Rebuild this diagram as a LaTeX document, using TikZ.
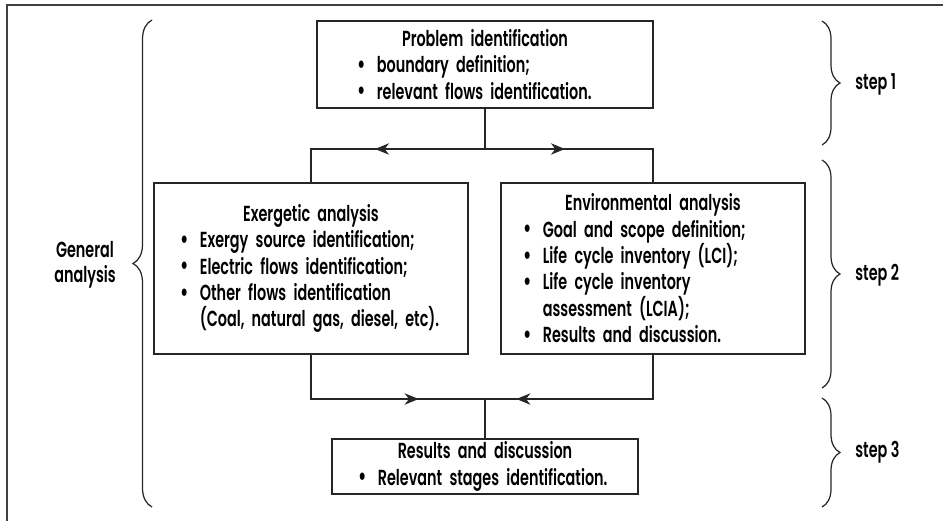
\documentclass[tikz,border=0pt]{standalone}
\usepackage{fontspec}
\setmainfont{Poppins SemiBold}[FakeStretch=0.66]
\usetikzlibrary{arrows.meta,decorations.pathreplacing,decorations.markings}
\newcommand\bdot{\raisebox{-0.4pt}{\fontsize{15}{15}\selectfont\textbullet}}
\newcommand\bitem[1]{\par\noindent\makebox[11.3pt][l]{\bdot}\mbox{#1}}
\newcommand\bmore[1]{\par\noindent\hspace*{11.3pt}\mbox{#1}}

\begin{document}
\begin{tikzpicture}[x=0.02cm,y=-0.02cm,
	stagebox/.style={draw=black!85,line width=0.8pt,inner sep=0pt,font=\fontsize{12.4}{15}\selectfont},
	flow/.style={draw=black!85,line width=0.8pt},
	arrowat/.style={flow,postaction={decorate},decoration={markings,
		mark=at position #1 with {\arrow{Stealth[length=8pt,width=6.5pt,inset=2.5pt]}}}},
	bracer/.style={draw=black!85,line width=0.7pt,decorate,decoration={brace,amplitude=#1}},
	steplabel/.style={anchor=west,inner sep=0pt,font=\fontsize{12.4}{15}\selectfont}]
	\useasboundingbox (0,0) rectangle (943,521);
	%FRAME
	\draw[line width=1.1pt,black!75] (7,521)--(7,5)--(943,5);

	%BOXES
	\node[stagebox,minimum width=6.72cm,minimum height=1.74cm,text width=5.12cm] (prob) at (485,64.5)
		{\centerline{Problem identification}
		 \bitem{boundary definition;}
		 \bitem{relevant flows identification.}};
	\node[stagebox,minimum width=6.28cm,minimum height=3.42cm,text width=5.24cm] (exe) at (311,268.5)
		{\centerline{Exergetic analysis}
		 \bitem{Exergy source identification;}
		 \bitem{Electric flows identification;}
		 \bitem{Other flows identification}
		 \bmore{(Coal, natural gas, diesel, etc).}};
	\node[stagebox,minimum width=6.08cm,minimum height=3.42cm,text width=5.2cm] (env) at (653,268.5)
		{\centerline{Environmental analysis}
		 \bitem{Goal and scope definition;}
		 \bitem{Life cycle inventory (LCI);}
		 \bitem{Life cycle inventory}
		 \bmore{assessment (LCIA);}
		 \bitem{Results and discussion.}};
	\node[stagebox,minimum width=6.12cm,minimum height=1.1cm,text width=5.08cm] (res) at (485,466.5)
		{\centerline{Results and discussion}
		 \bitem{Relevant stages identification.}};

	%CONNECTORS
	\coordinate (split) at (485,149);
	\coordinate (merge) at (485,399);
	\draw[flow] (prob.south)--(split);
	\draw[arrowat=2.2cm] (split) -| (exe.north);
	\draw[arrowat=1.6cm] (split) -| (env.north);
	\draw[arrowat=3.04cm] (exe.south) |- (merge);
	\draw[arrowat=3.62cm] (env.south) |- (merge);
	\draw[flow] (merge)--(res.north);

	%BRACES
	\draw[bracer=0.38cm] (152,507)--(152,20);
	\draw[bracer=0.36cm] (822,21)--(822,145);
	\draw[bracer=0.36cm] (822,160)--(822,388);
	\draw[bracer=0.36cm] (822,398)--(822,507);

	%LABELS
	\node[align=center,inner sep=0pt,font=\fontsize{12.4}{14.2}\selectfont] (gen) at (85,265) {General\\analysis};
	\node[steplabel] (step1) at (855,84) {step 1};
	\node[steplabel] (step2) at (855,275) {step 2};
	\node[steplabel] (step3) at (855,452) {step 3};
\end{tikzpicture}
\end{document}
